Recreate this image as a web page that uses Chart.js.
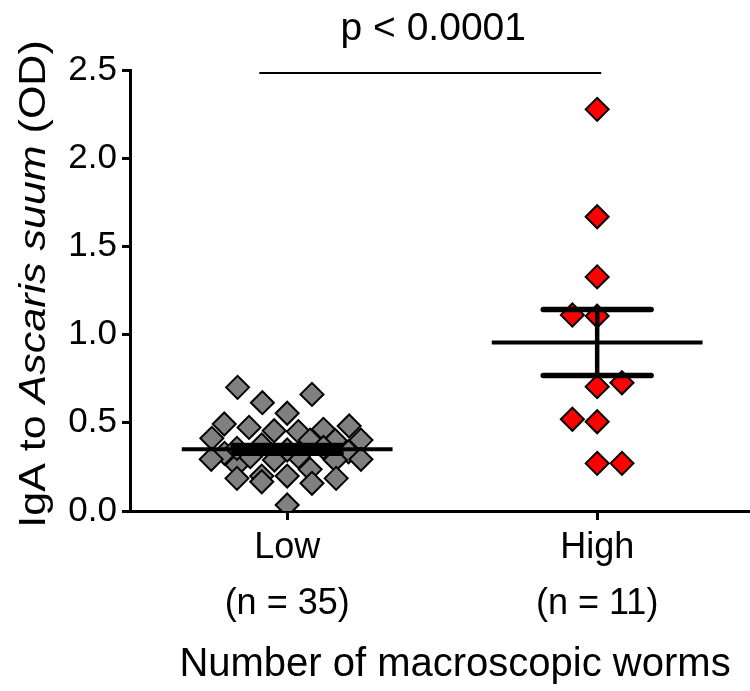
<!DOCTYPE html>
<html>
<head>
<meta charset="utf-8">
<script src="https://cdn.jsdelivr.net/npm/chart.js@4.4.1/dist/chart.umd.min.js"></script>
<style>html,body{margin:0;padding:0;background:#fff;}</style>
</head>
<body>
<canvas id="c" width="750" height="691"></canvas>
<script>
// ---- data ----
const categories = ['Low', 'High'];
const groupSizes = ['(n = 35)', '(n = 11)'];
const yTicks = [0, 0.5, 1.0, 1.5, 2.0, 2.5];

const lowOffsets = [-0.160, -0.080, 0.080, 0, -0.203, -0.123, -0.042, 0.036, 0.117, 0.200,
  -0.243, 0.238, -0.202, -0.245, -0.162, -0.119, -0.162, -0.082, -0.082, -0.162,
  -0.082, -0.041, 0.074, 0.155, 0.198, 0.238, 0.155, 0.074, 0, 0.080,
  0.158, 0, 0.036, 0, 0.117];
const lowValues = [0.701, 0.614, 0.661, 0.554, 0.493, 0.474, 0.455, 0.450, 0.463, 0.482,
  0.412, 0.402, 0.327, 0.293, 0.261, 0.308, 0.185, 0.198, 0.166, 0.355,
  0.374, 0.289, 0.402, 0.400, 0.336, 0.293, 0.289, 0.236, 0.198, 0.157,
  0.185, 0.034, 0.308, 0.346, 0.360];

const highOffsets = [0, 0, 0, -0.08, 0, 0, 0.08, -0.08, 0, 0, 0.08];
const highValues = [2.277, 1.668, 1.327, 1.111, 1.105, 0.705, 0.727, 0.520, 0.506, 0.270, 0.270];

const groupMeans = [0.35, 0.955];
const groupSems = [0.022, 0.187];

const sigSpan = [-0.09, 1.013];
const sigLevel = 2.483;
const sigLabel = 'p < 0.0001';
const yTitleParts = [['IgA to ', false], ['Ascaris suum', true], [' (OD)', false]];
const xTitle = 'Number of macroscopic worms';

// ---- chart ----
const FONT = '"Liberation Sans", Arial, Helvetica, sans-serif';
const meanHalf = 0.34, capHalf = 0.174;

function points(offsets, values, idx) {
  return values.map((v, i) => ({ x: idx + offsets[i], y: v }));
}

const datasets = [
  { label: categories[0], data: points(lowOffsets, lowValues, 0), pointStyle: 'rectRot',
    pointRadius: 11.5, pointHoverRadius: 11.5, backgroundColor: '#808080', borderColor: '#000',
    pointBorderWidth: 2, showLine: false, order: 10 },
  { label: categories[1], data: points(highOffsets, highValues, 1), pointStyle: 'rectRot',
    pointRadius: 11.5, pointHoverRadius: 11.5, backgroundColor: '#ff0000', borderColor: '#000',
    pointBorderWidth: 2, showLine: false, order: 10 }
];

function addLine(data, width, cap) {
  datasets.push({ data, showLine: true, borderColor: '#000', borderWidth: width,
    borderCapStyle: cap, pointRadius: 0, pointHoverRadius: 0, fill: false, order: 1 });
}
groupMeans.forEach((m, i) => {
  const s = groupSems[i];
  addLine([{ x: i - meanHalf, y: m }, { x: i + meanHalf, y: m }], 4, 'butt');
  addLine([{ x: i, y: m - s }, { x: i, y: m + s }], 4.5, 'butt');
  addLine([{ x: i - capHalf, y: m + s }, { x: i + capHalf, y: m + s }], 5.5, 'round');
  addLine([{ x: i - capHalf, y: m - s }, { x: i + capHalf, y: m - s }], 5.5, 'round');
});
addLine([{ x: sigSpan[0], y: sigLevel }, { x: sigSpan[1], y: sigLevel }], 2, 'butt');

const textPlugin = {
  id: 'texts',
  afterDraw(chart) {
    const ctx = chart.ctx;
    const xs = chart.scales.x, ys = chart.scales.y;
    ctx.save();
    ctx.fillStyle = '#000';
    // significance label
    ctx.font = '39px ' + FONT;
    ctx.textAlign = 'center';
    ctx.textBaseline = 'alphabetic';
    const midX = (xs.getPixelForValue(sigSpan[0]) + xs.getPixelForValue(sigSpan[1])) / 2;
    ctx.fillText(sigLabel, midX + 3, ys.getPixelForValue(sigLevel) - 33);
    // x title
    ctx.font = '40px ' + FONT;
    ctx.fillText(xTitle, 455, 676);
    // y title (mixed italic)
    ctx.translate(45, 284);
    ctx.scale(0.88, 1);
    ctx.rotate(-Math.PI / 2);
    ctx.textAlign = 'left';
    let total = 0;
    const fonts = yTitleParts.map(([t, it]) => (it ? 'italic ' : '') + '43px ' + FONT);
    yTitleParts.forEach(([t], k) => { ctx.font = fonts[k]; total += ctx.measureText(t).width; });
    let x = -total / 2;
    yTitleParts.forEach(([t], k) => { ctx.font = fonts[k]; ctx.fillText(t, x, 0); x += ctx.measureText(t).width; });
    ctx.restore();
  }
};

new Chart(document.getElementById('c'), {
  type: 'scatter',
  data: { datasets },
  options: {
    responsive: false,
    animation: false,
    layout: { autoPadding: false, padding: { top: 70, right: 0, left: 0, bottom: 0 } },
    plugins: { legend: { display: false }, tooltip: { enabled: false } },
    scales: {
      x: {
        type: 'linear', min: -0.507, max: 1.493,
        afterBuildTicks: s => { s.ticks = categories.map((c, i) => ({ value: i })); },
        ticks: {
          callback: v => [categories[v], groupSizes[v]],
          font: { family: FONT, size: 36, lineHeight: 1.53 },
          color: '#000', padding: 1, maxRotation: 0, autoSkip: false
        },
        grid: { display: true, drawOnChartArea: false, drawTicks: true, tickLength: 9, tickWidth: 3, tickColor: '#000' },
        border: { display: true, color: '#000', width: 3 },
        afterFit: s => { s.height = 180; s.paddingLeft = 0; s.paddingRight = 0; }
      },
      y: {
        type: 'linear', min: 0, max: 2.5,
        afterBuildTicks: s => { s.ticks = yTicks.map(v => ({ value: v })); },
        ticks: { callback: v => Number(v).toFixed(1), font: { family: FONT, size: 35 }, color: '#000', padding: 5 },
        grid: { display: true, drawOnChartArea: false, drawTicks: true, tickLength: 8, tickWidth: 3, tickColor: '#000' },
        border: { display: true, color: '#000', width: 3 },
        afterFit: s => { s.width = 130; s.paddingTop = 0; s.paddingBottom = 0; }
      }
    }
  },
  plugins: [textPlugin]
});
</script>
</body>
</html>
